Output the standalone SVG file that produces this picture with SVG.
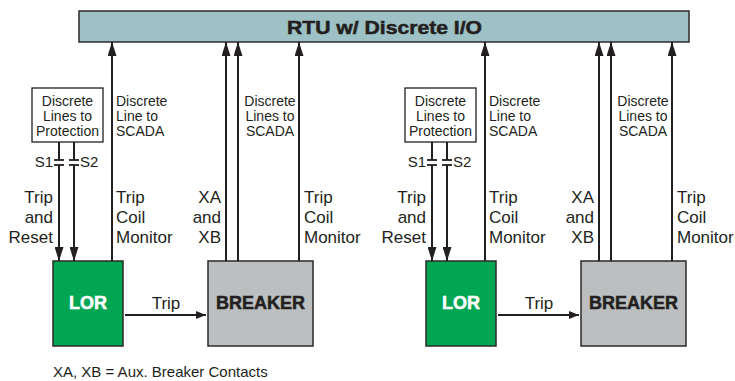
<svg xmlns="http://www.w3.org/2000/svg" width="735" height="381" viewBox="0 0 735 381">
<style>
.box{stroke:#2b2a29;stroke-width:1.5}
.ln{stroke:#231f20;stroke-width:2;fill:none}
.pl{stroke:#231f20;stroke-width:1.8}
.t{font-family:"Liberation Sans",Arial,sans-serif;fill:#231f20}
.s{font-size:14px}
.m{font-size:17px}
.b{font-family:"Liberation Sans",Arial,sans-serif;font-weight:bold;font-size:18px;stroke-width:0.5}
</style>
<defs>
<marker id="ah" viewBox="0 0 14 9" refX="14" refY="4.5" markerWidth="14" markerHeight="9" markerUnits="userSpaceOnUse" orient="auto">
<path d="M0,0 L14,4.5 L0,9 Z" fill="#231f20"/>
</marker>
<marker id="ahs" viewBox="0 0 10 8" refX="10" refY="4" markerWidth="10" markerHeight="8" markerUnits="userSpaceOnUse" orient="auto">
<path d="M0,0 L10,4 L0,8 Z" fill="#231f20"/>
</marker>
</defs>
<rect width="735" height="381" fill="#ffffff"/>

<g id="rtu">
<rect class="box" x="79" y="11" width="610" height="31" fill="#9dc1c4"/>
<text class="b" x="384.5" y="34" font-size="19" text-anchor="middle" textLength="195" lengthAdjust="spacingAndGlyphs" fill="#231f20" stroke="#231f20" stroke-width="0.7">RTU w/ Discrete I/O</text>
</g>

<g id="prot1">
<rect x="32" y="88" width="71" height="54" fill="#ffffff" stroke="#231f20" stroke-width="1.3"/>
<text class="t s" text-anchor="middle"><tspan x="67.5" y="106">Discrete</tspan><tspan x="67.5" y="121">Lines to</tspan><tspan x="67.5" y="136">Protection</tspan></text>
</g>
<g id="lor1">
<rect class="box" x="53" y="261" width="70" height="85" fill="#00a651"/>
<text class="b" x="88" y="309" text-anchor="middle" fill="#ffffff" stroke="#ffffff">LOR</text>
</g>
<g id="breaker1">
<rect class="box" x="208" y="261" width="105" height="85" fill="#bcbec0"/>
<text class="b" x="260.5" y="309" text-anchor="middle" fill="#231f20" stroke="#231f20">BREAKER</text>
</g>

<g id="prot2">
<rect x="405" y="88" width="71" height="54" fill="#ffffff" stroke="#231f20" stroke-width="1.3"/>
<text class="t s" text-anchor="middle"><tspan x="440.5" y="106">Discrete</tspan><tspan x="440.5" y="121">Lines to</tspan><tspan x="440.5" y="136">Protection</tspan></text>
</g>
<g id="lor2">
<rect class="box" x="426" y="261" width="70" height="85" fill="#00a651"/>
<text class="b" x="461" y="309" text-anchor="middle" fill="#ffffff" stroke="#ffffff">LOR</text>
</g>
<g id="breaker2">
<rect class="box" x="581" y="261" width="105" height="85" fill="#bcbec0"/>
<text class="b" x="633.5" y="309" text-anchor="middle" fill="#231f20" stroke="#231f20">BREAKER</text>
</g>

<g id="connectors">
<path class="ln" d="M59,142 V160 M59,165 V261" marker-end="url(#ah)"/>
<path class="ln" d="M74,142 V160 M74,165 V261" marker-end="url(#ah)"/>
<line class="pl" x1="54" y1="160" x2="64" y2="160"/><line class="pl" x1="54" y1="165" x2="64" y2="165"/>
<line class="pl" x1="69" y1="160" x2="79" y2="160"/><line class="pl" x1="69" y1="165" x2="79" y2="165"/>
<line class="ln" x1="112" y1="261" x2="112" y2="42" marker-end="url(#ah)"/>
<line class="ln" x1="226" y1="261" x2="226" y2="42" marker-end="url(#ah)"/>
<line class="ln" x1="238" y1="261" x2="238" y2="42" marker-end="url(#ah)"/>
<line class="ln" x1="299" y1="261" x2="299" y2="42" marker-end="url(#ah)"/>
<line class="ln" x1="125" y1="315" x2="206" y2="315" marker-end="url(#ahs)"/>
<path class="ln" d="M432,142 V160 M432,165 V261" marker-end="url(#ah)"/>
<path class="ln" d="M447,142 V160 M447,165 V261" marker-end="url(#ah)"/>
<line class="pl" x1="427" y1="160" x2="437" y2="160"/><line class="pl" x1="427" y1="165" x2="437" y2="165"/>
<line class="pl" x1="442" y1="160" x2="452" y2="160"/><line class="pl" x1="442" y1="165" x2="452" y2="165"/>
<line class="ln" x1="485" y1="261" x2="485" y2="42" marker-end="url(#ah)"/>
<line class="ln" x1="599" y1="261" x2="599" y2="42" marker-end="url(#ah)"/>
<line class="ln" x1="611" y1="261" x2="611" y2="42" marker-end="url(#ah)"/>
<line class="ln" x1="672" y1="261" x2="672" y2="42" marker-end="url(#ah)"/>
<line class="ln" x1="498" y1="315" x2="579" y2="315" marker-end="url(#ahs)"/>
</g>

<g id="labels">
<text class="t" x="53" y="167" font-size="15" text-anchor="end">S1</text>
<text class="t" x="80" y="167" font-size="15">S2</text>
<text class="t s"><tspan x="116" y="106">Discrete</tspan><tspan x="116" y="121">Line to</tspan><tspan x="116" y="136">SCADA</tspan></text>
<text class="t s" text-anchor="middle"><tspan x="270" y="106">Discrete</tspan><tspan x="270" y="121">Lines to</tspan><tspan x="270" y="136">SCADA</tspan></text>
<text class="t m" text-anchor="end"><tspan x="53" y="203">Trip</tspan><tspan x="53" y="223">and</tspan><tspan x="53" y="243">Reset</tspan></text>
<text class="t m"><tspan x="116" y="203">Trip</tspan><tspan x="116" y="223">Coil</tspan><tspan x="116" y="243">Monitor</tspan></text>
<text class="t m" text-anchor="end"><tspan x="221" y="203">XA</tspan><tspan x="221" y="223">and</tspan><tspan x="221" y="243">XB</tspan></text>
<text class="t m"><tspan x="304" y="203">Trip</tspan><tspan x="304" y="223">Coil</tspan><tspan x="304" y="243">Monitor</tspan></text>
<text class="t m" x="166" y="309" text-anchor="middle">Trip</text>

<text class="t" x="426" y="167" font-size="15" text-anchor="end">S1</text>
<text class="t" x="453" y="167" font-size="15">S2</text>
<text class="t s"><tspan x="489" y="106">Discrete</tspan><tspan x="489" y="121">Line to</tspan><tspan x="489" y="136">SCADA</tspan></text>
<text class="t s" text-anchor="middle"><tspan x="643" y="106">Discrete</tspan><tspan x="643" y="121">Lines to</tspan><tspan x="643" y="136">SCADA</tspan></text>
<text class="t m" text-anchor="end"><tspan x="426" y="203">Trip</tspan><tspan x="426" y="223">and</tspan><tspan x="426" y="243">Reset</tspan></text>
<text class="t m"><tspan x="489" y="203">Trip</tspan><tspan x="489" y="223">Coil</tspan><tspan x="489" y="243">Monitor</tspan></text>
<text class="t m" text-anchor="end"><tspan x="594" y="203">XA</tspan><tspan x="594" y="223">and</tspan><tspan x="594" y="243">XB</tspan></text>
<text class="t m"><tspan x="677" y="203">Trip</tspan><tspan x="677" y="223">Coil</tspan><tspan x="677" y="243">Monitor</tspan></text>
<text class="t m" x="539" y="309" text-anchor="middle">Trip</text>

<text class="t" x="53" y="377" font-size="15">XA, XB = Aux. Breaker Contacts</text>
</g>
</svg>
